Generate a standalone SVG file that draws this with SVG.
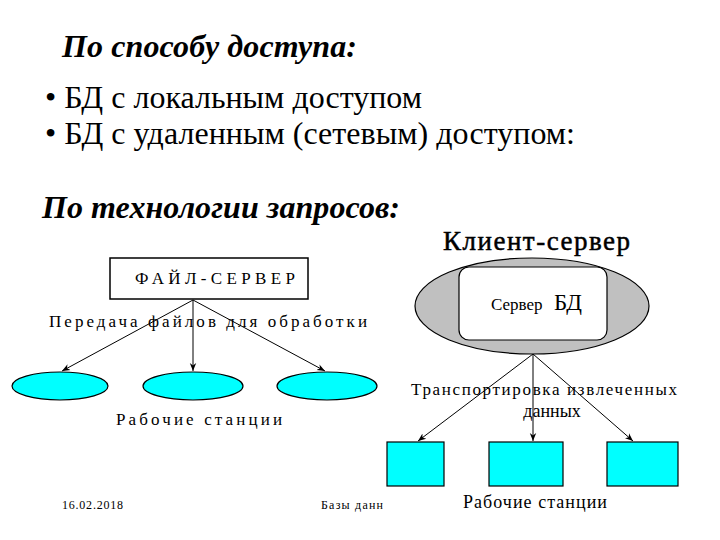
<svg xmlns="http://www.w3.org/2000/svg" width="720" height="540" viewBox="0 0 720 540">
<style>
text{font-family:"Liberation Serif","Times New Roman",serif;fill:#000}
.h{font-weight:bold;font-style:italic;font-size:32px}
.b{font-size:32px}
.s{font-size:17px}
.f{font-size:12px}
.ln{stroke:#000;stroke-width:1;fill:none}
.ws{fill:#00ffff;stroke:#000;stroke-width:1.2}
</style>
<defs>
<marker id="ah" viewBox="0 0 10 10" refX="10" refY="5" markerWidth="8" markerHeight="8" orient="auto">
<path d="M0,1 L10,5 L0,9 L3,5 Z" fill="#000"/>
</marker>
</defs>
<rect width="720" height="540" fill="#fff"/>
<text class="h" x="62" y="57" textLength="295">По способу доступа:</text>
<text class="b" x="45" y="108" textLength="377">• БД с локальным доступом</text>
<text class="b" x="45" y="144" textLength="530">• БД с удаленным (сетевым) доступом:</text>
<text class="h" x="42" y="218" textLength="358">По технологии запросов:</text>

<g id="connectors">
<line class="ln" x1="193" y1="300" x2="62" y2="371" marker-end="url(#ah)"/>
<line class="ln" x1="193" y1="300" x2="193" y2="371" marker-end="url(#ah)"/>
<line class="ln" x1="193" y1="300" x2="325" y2="371" marker-end="url(#ah)"/>
<line class="ln" x1="533" y1="354" x2="418" y2="441" marker-end="url(#ah)"/>
<line class="ln" x1="533" y1="354" x2="533" y2="441" marker-end="url(#ah)"/>
<line class="ln" x1="533" y1="354" x2="633" y2="441" marker-end="url(#ah)"/>
</g>

<g id="file-server">
<rect x="110" y="258" width="198" height="41" fill="#fff" stroke="#000" stroke-width="1.5"/>
<text class="s" x="135" y="284" textLength="160" lengthAdjust="spacing">ФАЙЛ-СЕРВЕР</text>
</g>
<text class="s" x="49" y="327" textLength="318" lengthAdjust="spacing">Передача файлов для обработки</text>
<g id="ws-left"><ellipse class="ws" cx="60" cy="386" rx="48" ry="14"/></g>
<g id="ws-mid"><ellipse class="ws" cx="193" cy="386" rx="50" ry="14"/></g>
<g id="ws-right"><ellipse class="ws" cx="327" cy="386" rx="50" ry="14"/></g>
<text class="s" x="116" y="425" textLength="166" lengthAdjust="spacing">Рабочие станции</text>

<text x="443" y="250" font-size="27" textLength="187" style="stroke:#000;stroke-width:0.5">Клиент-сервер</text>
<g id="db-server">
<ellipse cx="532" cy="306" rx="117" ry="48" fill="#c0c0c0" stroke="#000" stroke-width="1.2"/>
<rect x="459" y="267" width="148" height="73" rx="10" fill="#fff" stroke="#000" stroke-width="1.2"/>
<text x="491" y="310" font-size="17">Сервер</text>
<text x="554" y="310" font-size="23">БД</text>
</g>
<text class="s" x="411" y="395" textLength="266">Транспортировка извлеченных</text>
<text x="552" y="417" font-size="18" text-anchor="middle">данных</text>
<g id="ws2-left"><rect class="ws" x="387" y="442" width="57" height="44"/></g>
<g id="ws2-mid"><rect class="ws" x="489" y="442" width="74" height="44"/></g>
<g id="ws2-right"><rect class="ws" x="607" y="442" width="71" height="44"/></g>
<text x="463" y="508" font-size="18" textLength="144">Рабочие станции</text>

<text class="f" x="62" y="509" textLength="61">16.02.2018</text>
<text class="f" x="321" y="509" textLength="62">Базы данн</text>
</svg>
